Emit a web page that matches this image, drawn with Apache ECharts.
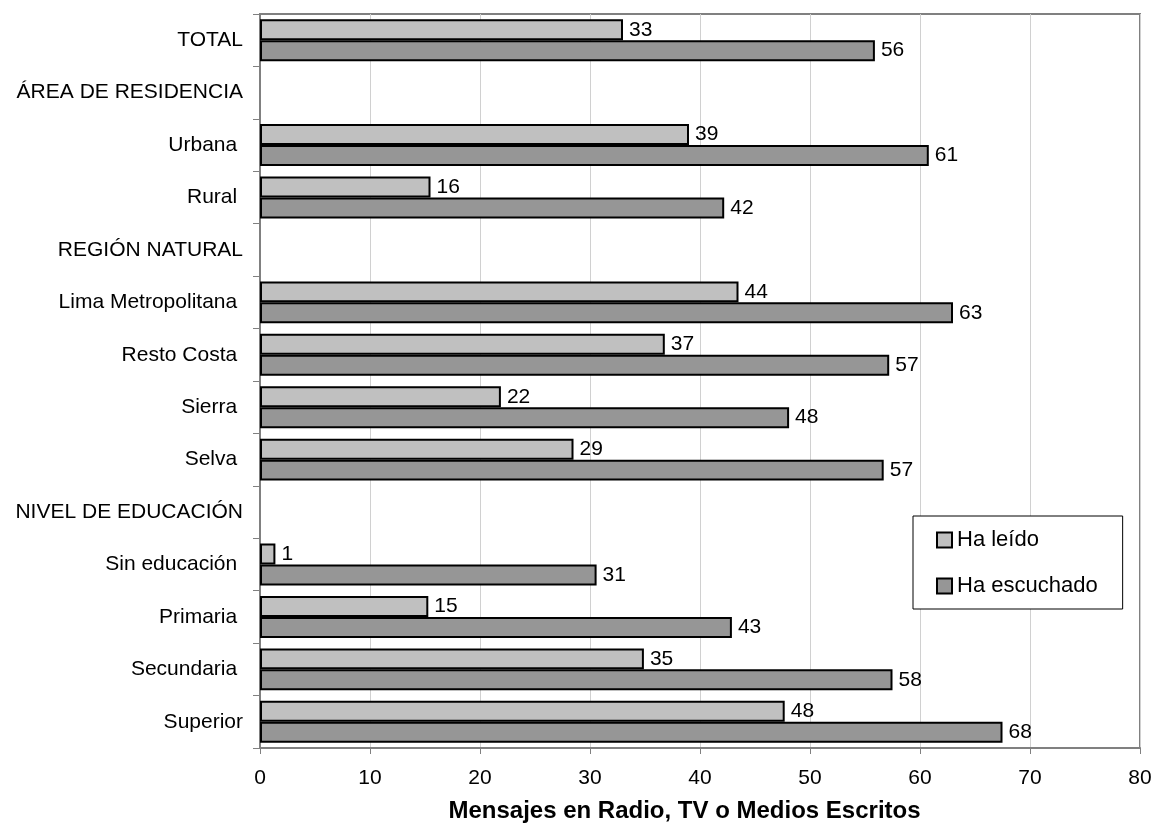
<!DOCTYPE html>
<html>
<head>
<meta charset="utf-8">
<script src="https://cdn.jsdelivr.net/npm/echarts@6/dist/echarts.min.js"></script>
<style>html,body{margin:0;padding:0;background:#fff;}#chart{width:1156px;height:824px;}</style>
</head>
<body>
<div id="chart"></div>
<script>
const categories = ['TOTAL', 'ÁREA DE RESIDENCIA', 'Urbana ', 'Rural ', 'REGIÓN NATURAL', 'Lima Metropolitana ', 'Resto Costa ', 'Sierra ', 'Selva ', 'NIVEL DE EDUCACIÓN', 'Sin educación ', 'Primaria ', 'Secundaria ', 'Superior'];
const haLeido = [33.0, null, 39.0, 15.5, null, 43.5, 36.8, 21.9, 28.5, null, 1.4, 15.3, 34.9, 47.7];
const haEscuchado = [55.9, null, 60.8, 42.2, null, 63.0, 57.2, 48.1, 56.7, null, 30.6, 42.9, 57.5, 67.5];
const xTicks = [0, 10, 20, 30, 40, 50, 60, 70, 80];
const seriesNames = ['Ha leído', 'Ha escuchado'];
const xTitle = 'Mensajes en Radio, TV o Medios Escritos';

const FONT = '"Liberation Sans", Arial, sans-serif';
const chart = echarts.init(document.getElementById('chart'));
const labelOpt = {
  show: true, position: 'right', distance: 6,
  fontFamily: FONT, fontSize: 21, color: '#000',
  formatter: p => Math.round(p.value)
};
chart.setOption({
  animation: false,
  backgroundColor: '#fff',
  textStyle: { fontFamily: FONT },
  grid: { left: 260, right: 16, top: 14, bottom: 76, containLabel: false, outerBoundsMode: 'none', show: true, borderColor: '#808080', borderWidth: 2, backgroundColor: 'transparent' },
  legend: {
    orient: 'vertical', left: 913, top: 516,
    padding: [13, 25, 12, 23],
    itemWidth: 15, itemHeight: 15, itemGap: 24,
    borderColor: '#000', borderWidth: 1, backgroundColor: '#fff',
    icon: 'rect',
    textStyle: { fontFamily: FONT, fontSize: 22, color: '#000' },
    data: seriesNames
  },
  xAxis: {
    type: 'value', min: xTicks[0], max: xTicks[xTicks.length - 1], interval: 10,
    name: xTitle, nameLocation: 'middle', nameGap: 51,
    nameTextStyle: { fontFamily: FONT, fontSize: 24, fontWeight: 'bold', color: '#000', padding: [0, 31, 0, 0] },
    axisLine: { show: true, lineStyle: { color: '#808080', width: 2 } },
    axisTick: { show: true, length: 6, lineStyle: { color: '#808080' } },
    axisLabel: { fontFamily: FONT, fontSize: 21, color: '#000', margin: 20 },
    splitLine: { show: true, lineStyle: { color: '#d0d0d0', width: 1 } }
  },
  yAxis: {
    type: 'category', data: categories, inverse: true,
    axisLine: { show: true, lineStyle: { color: '#808080', width: 2 } },
    axisTick: { show: true, length: 7, lineStyle: { color: '#808080' } },
    axisLabel: { fontFamily: FONT, fontSize: 21, color: '#000', margin: 17 },
    splitLine: { show: false }
  },
  series: [
    {
      name: seriesNames[0], type: 'bar', data: haLeido,
      barGap: 0, barCategoryGap: '20%',
      itemStyle: { color: '#c0c0c0', borderColor: '#000', borderWidth: 2 },
      label: labelOpt
    },
    {
      name: seriesNames[1], type: 'bar', data: haEscuchado,
      barGap: 0, barCategoryGap: '20%',
      itemStyle: { color: '#969696', borderColor: '#000', borderWidth: 2 },
      label: labelOpt
    }
  ]
});
</script>
</body>
</html>
